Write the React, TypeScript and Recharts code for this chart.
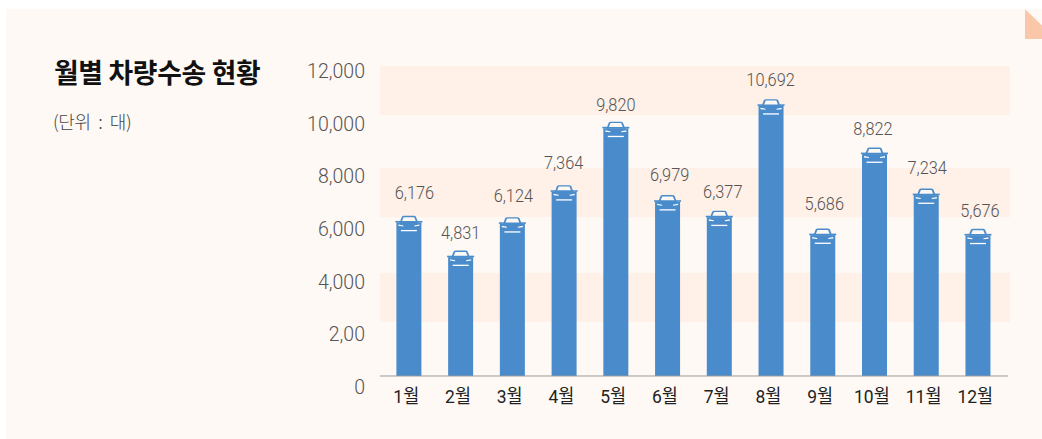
import React from "react";
import { BarChart, Bar, XAxis, YAxis, ReferenceArea, LabelList } from "recharts";

const months = ["1월", "2월", "3월", "4월", "5월", "6월", "7월", "8월", "9월", "10월", "11월", "12월"];
const vehicles = [6176, 4831, 6124, 7364, 9820, 6979, 6377, 10692, 5686, 8822, 7234, 5676];
const yTicks = [0, 2000, 4000, 6000, 8000, 10000, 12000];
const yTickLabels = ["0", "2,00", "4,000", "6,000", "8,000", "10,000", "12,000"];
const bandRanges = [[10100, 12000], [6150, 8050], [2090, 3990]];
const labelNudgeX = [5.5, 0, 1, -0.5, 0, 2, 3.5, -0.5, 1.5, -1.5, 1, 2];
const labelNudgeY = [-2, 3, -1, -2, 4, 0, 2, 1, -4, 2, 0, 3];

const data = months.map((m, i) => ({ month: m, value: vehicles[i] }));

const NUM = "Roboto, 'Noto Sans CJK KR', sans-serif";
const BLUE = "#4A8CCB";
const PANEL = "#FEF9F5";

const CarBar = (p: any) => {
  const { x, y, width, height } = p;
  const t = y - 1;
  return (
    <g>
      <rect x={x} y={t + 7} width={width} height={height - 6} fill={BLUE} />
      <path d={`M${x + 3} ${t + 7.5} L${x + 5.4} ${t + 1.5} Q${x + 6} ${t + 0.4} ${x + 7.4} ${t + 0.4} L${x + 17.6} ${t + 0.4} Q${x + 19} ${t + 0.4} ${x + 19.6} ${t + 1.5} L${x + 22} ${t + 7.5} Z`} fill={BLUE} />
      <path d={`M${x + 5.6} ${t + 5.6} L${x + 7.2} ${t + 1.8} L${x + 17.8} ${t + 1.8} L${x + 19.4} ${t + 5.6} Z`} fill={PANEL} />
      <rect x={x - 1} y={t + 5.5} width={5} height={1.6} fill={BLUE} />
      <rect x={x + width - 4} y={t + 5.5} width={5} height={1.6} fill={BLUE} />
      <path d={`M${x + 2} ${t + 9} L${x + 7} ${t + 10} L${x + 7} ${t + 11} L${x + 2} ${t + 10.4} Z`} fill="#FFFFFF" />
      <path d={`M${x + 23} ${t + 9} L${x + 18} ${t + 10} L${x + 18} ${t + 11} L${x + 23} ${t + 10.4} Z`} fill="#FFFFFF" />
      <rect x={x + 4.5} y={t + 14.5} width={16} height={1.3} fill="#FFFFFF" />
    </g>
  );
};

const YTick = (p: any) => {
  const idx = yTicks.indexOf(p.payload.value);
  return (
    <text transform={`translate(365 ${p.y + 18 - idx}) scale(0.93 1)`} textAnchor="end" fontFamily={NUM} fontWeight={300} fontSize={21} fill="#555555">
      {yTickLabels[idx]}
    </text>
  );
};

const XTick = (p: any) => (
  <text transform={`translate(${p.x - 3} 403) scale(0.92 1)`} textAnchor="middle" fontFamily={NUM} fontWeight={400} fontSize={19} fill="#222222">
    {p.payload.value}
  </text>
);

const ValueLabel = (p: any) => (
  <text transform={`translate(${p.x + p.width / 2 + labelNudgeX[p.index]} ${p.y - 15 + labelNudgeY[p.index]}) scale(0.86 1)`} textAnchor="middle" fontFamily={NUM} fontWeight={300} fontSize={19} fill="#555555">
    {Number(p.value).toLocaleString("en-US")}
  </text>
);

const Band = (p: any) => <rect x={p.x - 3.4} y={p.y} width={p.width + 9.2} height={p.height} fill="#FFF0E8" />;

export default function App() {
  return (
    <div style={{ position: "absolute", left: 0, top: 0, width: 1042, height: 439, background: "#FFFFFF", overflow: "hidden" }}>
      <div style={{ position: "absolute", left: 6, top: 9, width: 1036, height: 430, background: PANEL }} />
      <div style={{ position: "absolute", left: 1025, top: 9, width: 17, height: 30, background: "#FAC8A8", clipPath: "polygon(0 0, 100% 55%, 100% 100%, 0 100%)" }} />
      <div style={{ position: "absolute", left: 54, top: 54, fontFamily: "'Noto Sans CJK KR', sans-serif", fontWeight: 700, fontSize: 26.8, lineHeight: "36px", color: "#111111", whiteSpace: "nowrap", letterSpacing: -0.3 }}>
        월별 차량수송 현황
      </div>
      <div style={{ position: "absolute", left: 53, top: 109, fontFamily: "'Noto Sans CJK KR', sans-serif", fontWeight: 300, fontSize: 18, lineHeight: "24px", color: "#444444", whiteSpace: "nowrap", letterSpacing: -0.4, wordSpacing: 4 }}>
        (단위 : 대)
      </div>
      <div style={{ position: "absolute", left: 0, top: 0 }}>
        <BarChart width={1042} height={439} data={data} margin={{ top: 66, right: 34, bottom: 0, left: 320 }} barSize={25}>
          {bandRanges.map((r) => (
            <ReferenceArea key={r[0]} y1={r[0]} y2={r[1]} shape={Band} ifOverflow="visible" />
          ))}
          <XAxis dataKey="month" axisLine={{ stroke: "#999999", strokeWidth: 1 }} tickLine={false} tick={XTick} padding={{ left: 3.4, right: 3.8 }} interval={0} height={63} />
          <YAxis domain={[0, 12000]} ticks={yTicks} axisLine={false} tickLine={false} tick={YTick} width={60} interval={0} />
          <Bar dataKey="value" shape={CarBar} isAnimationActive={false}>
            <LabelList dataKey="value" content={ValueLabel} />
          </Bar>
        </BarChart>
      </div>
    </div>
  );
}
